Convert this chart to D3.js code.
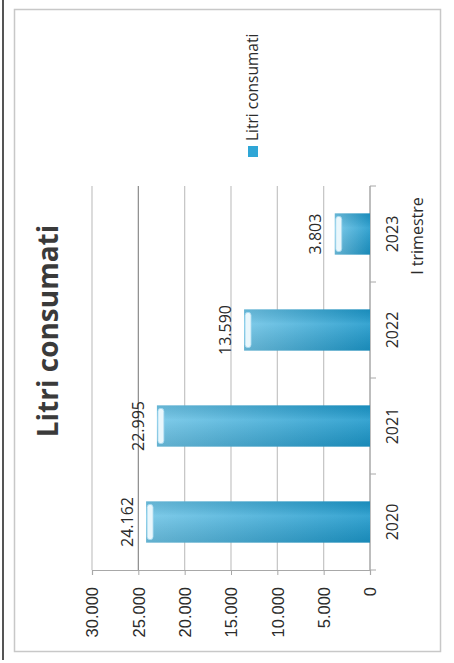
<!DOCTYPE html>
<html>
<head>
<meta charset="utf-8">
<script src="https://cdn.jsdelivr.net/npm/d3@7"></script>
<style>
  body { margin: 0; background: #fff; }
  svg { display: block; font-family: "Open Sans", sans-serif; }
</style>
</head>
<body>
<div id="chart"></div>
<script>
// data read from the (rotated) scan
var years = ["2020", "2021", "2022", "2023"];
var litri = [24162, 22995, 13590, 3803];
var yTicks = [0, 5000, 10000, 15000, 20000, 25000, 30000];
var title = "Litri consumati";
var seriesName = "Litri consumati";
var lastNote = "I trimestre";

var W = 454, H = 663;

var svg = d3.select("#chart")
  .append("svg")
    .attr("width", W)
    .attr("height", H);

// italian number format 24.162
var it = d3.formatLocale({decimal: ",", thousands: ".", grouping: [3], currency: ["", " €"]});
var fmt = it.format(",");

var defs = svg.append("defs");
var grad = defs.append("linearGradient")
  .attr("id", "barGrad")
  .attr("x1", "0%").attr("x2", "100%").attr("y1", "0%").attr("y2", "0%");
grad.append("stop").attr("offset", "0%").attr("stop-color", "#6ec4e6");
grad.append("stop").attr("offset", "100%").attr("stop-color", "#1c98cb");

var shade = defs.append("linearGradient")
  .attr("id", "barShade")
  .attr("x1", "0%").attr("x2", "0%").attr("y1", "0%").attr("y2", "100%");
shade.append("stop").attr("offset", "0%").attr("stop-color", "#000").attr("stop-opacity", 0.08);
shade.append("stop").attr("offset", "35%").attr("stop-color", "#fff").attr("stop-opacity", 0.12);
shade.append("stop").attr("offset", "100%").attr("stop-color", "#000").attr("stop-opacity", 0.1);

// page edge of the scan + chart frame
svg.append("line")
  .attr("x1", 3).attr("x2", 3).attr("y1", 0).attr("y2", 660)
  .attr("stroke", "#555").attr("stroke-width", 2);
svg.append("rect")
  .attr("x", 14.5).attr("y", 9.5).attr("width", 426).attr("height", 642)
  .attr("fill", "none").attr("stroke", "#c8c8c8").attr("stroke-width", 1.5);

// the chart is turned 90deg: value runs right->left, categories bottom->top
var x = d3.scaleLinear()
  .domain([0, 30000])
  .range([370, 92]);

var y = d3.scaleBand()
  .domain(years)
  .range([570, 186])
  .paddingInner(0.57)
  .paddingOuter(0.285);

// gridlines
svg.append("g")
  .selectAll("line")
  .data(yTicks)
  .join("line")
    .attr("x1", d => x(d)).attr("x2", d => x(d))
    .attr("y1", 186).attr("y2", 570)
    .attr("stroke", d => d == 25000 ? "#8a8a8a" : "#c4c4c4")
    .attr("stroke-width", 1.2);

// value axis
var xAxis = svg.append("g")
  .attr("transform", "translate(0,570)")
  .call(d3.axisBottom(x).tickValues(yTicks).tickFormat(fmt).tickSizeOuter(0).tickSize(5));
xAxis.select(".domain").attr("stroke", "#a8a8a8").attr("stroke-width", 1.2);
xAxis.selectAll(".tick line").attr("stroke", "#a8a8a8");
xAxis.selectAll(".tick text")
  .attr("font-size", 16.5)
  .attr("fill", "#2b2b2b")
  .attr("text-anchor", "end")
  .attr("dy", "0.35em")
  .attr("transform", "translate(0,17) rotate(-90)")
  .attr("x", 0).attr("y", 0);

// category axis
svg.append("line")
  .attr("x1", 370).attr("x2", 370).attr("y1", 186).attr("y2", 570)
  .attr("stroke", "#a8a8a8").attr("stroke-width", 1.2);
var bounds = d3.range(years.length + 1).map(i => 570 - i * (384 / years.length));
svg.append("g")
  .selectAll("line")
  .data(bounds)
  .join("line")
    .attr("x1", 370).attr("x2", 376)
    .attr("y1", d => d).attr("y2", d => d)
    .attr("stroke", "#a8a8a8");

svg.append("g")
  .selectAll("text")
  .data(years)
  .join("text")
    .attr("transform", d => "translate(392," + (y(d) + y.bandwidth() / 2) + ") rotate(-90)")
    .attr("text-anchor", "middle")
    .attr("dy", "0.35em")
    .attr("font-size", 16)
    .attr("fill", "#2b2b2b")
    .text(d => d);

svg.append("text")
  .attr("transform", "translate(417," + (y("2023") + y.bandwidth() / 2 + 2) + ") rotate(-90)")
  .attr("text-anchor", "middle")
  .attr("dy", "0.35em")
  .attr("font-size", 16)
  .attr("fill", "#2b2b2b")
  .text(lastNote);

// bars
var bars = svg.append("g")
  .selectAll("g")
  .data(years)
  .join("g");

bars.append("rect")
  .attr("x", (d, i) => x(litri[i]))
  .attr("y", d => y(d))
  .attr("width", (d, i) => x(0) - x(litri[i]))
  .attr("height", y.bandwidth())
  .attr("fill", "url(#barGrad)");
bars.append("rect")
  .attr("x", (d, i) => x(litri[i]))
  .attr("y", d => y(d))
  .attr("width", (d, i) => x(0) - x(litri[i]))
  .attr("height", y.bandwidth())
  .attr("fill", "url(#barShade)");
// light cap at the bar end
bars.append("rect")
  .attr("x", (d, i) => x(litri[i]) + 1)
  .attr("y", d => y(d) + 3)
  .attr("width", 6)
  .attr("height", y.bandwidth() - 6)
  .attr("rx", 3)
  .attr("fill", "#eaf7fc")
  .attr("stroke", "#9fd6ee")
  .attr("stroke-width", 0.8);

// value labels
svg.append("g")
  .selectAll("text")
  .data(years)
  .join("text")
    .attr("transform", (d, i) => "translate(" + (x(litri[i]) - 19) + "," + (y(d) + y.bandwidth() / 2) + ") rotate(-90)")
    .attr("text-anchor", "middle")
    .attr("dy", "0.35em")
    .attr("font-size", 16)
    .attr("fill", "#2b2b2b")
    .text((d, i) => fmt(litri[i]));

// title
svg.append("text")
  .attr("transform", "translate(48,331) rotate(-90)")
  .attr("text-anchor", "middle")
  .attr("dy", "0.35em")
  .attr("font-size", 28)
  .attr("font-weight", "bold")
  .attr("fill", "#3a3a3a")
  .text(title);

// legend
var leg = svg.append("g").attr("transform", "translate(253,151)");
leg.append("rect")
  .attr("x", -5).attr("y", -5).attr("width", 10).attr("height", 11)
  .attr("fill", "#2fa6d6");
leg.append("text")
  .attr("transform", "translate(0,-10) rotate(-90)")
  .attr("text-anchor", "start")
  .attr("dy", "0.35em")
  .attr("font-size", 15.5)
  .attr("fill", "#2b2b2b")
  .text(seriesName);
</script>
</body>
</html>
